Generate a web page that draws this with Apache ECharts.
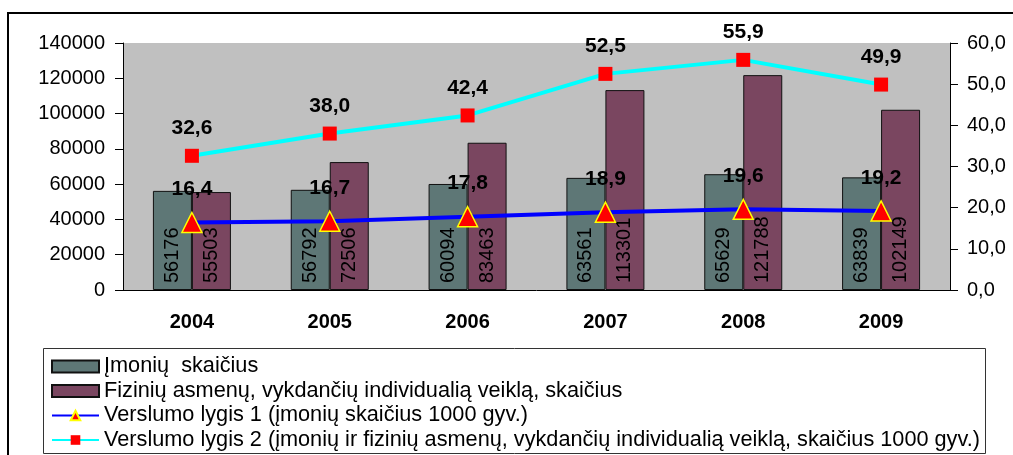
<!DOCTYPE html>
<html>
<head>
    <meta charset="utf-8">
    <title>Verslumo lygis</title>
    <style>
        html, body { margin: 0; padding: 0; background: #fff; }
        #chart { width: 1013px; height: 455px; }
    </style>
</head>
<body>
    <div id="chart"></div>
    <script src="https://cdn.jsdelivr.net/npm/echarts@6/dist/echarts.min.js"></script>
    <script>
        // duomenys
        var years = ['2004', '2005', '2006', '2007', '2008', '2009'];
        var imones = [56176, 56792, 60094, 63561, 65629, 63839];
        var fiziniai = [55503, 72506, 83463, 113301, 121788, 102149];
        var lygis1 = [16.4, 16.7, 17.8, 18.9, 19.6, 19.2];
        var lygis2 = [32.6, 38.0, 42.4, 52.5, 55.9, 49.9];

        var names = [
            'Įmonių  skaičius',
            'Fizinių asmenų, vykdančių individualią veiklą, skaičius',
            'Verslumo lygis 1 (įmonių skaičius 1000 gyv.)',
            'Verslumo lygis 2 (įmonių ir fizinių asmenų, vykdančių individualią veiklą, skaičius 1000 gyv.)'
        ];

        var font = "'Liberation Sans', Arial, sans-serif";
        var comma = function (v) { return v.toFixed(1).replace('.', ','); };

        var chart = echarts.init(document.getElementById('chart'));

        var barLabel = {
            show: true,
            position: 'insideBottom',
            rotate: 90,
            align: 'left',
            verticalAlign: 'middle',
            distance: 7,
            color: '#000',
            fontSize: 20,
            fontFamily: font
        };

        var lineLabel = function (dist) {
            return {
                show: true, position: 'top', distance: dist,
                color: '#000', fontSize: 21, fontWeight: 'bold', fontFamily: font,
                formatter: function (p) { return comma(p.value); }
            };
        };

        // po viena legendos eilute, kad neperskeltu i stulpelius
        var legends = names.map(function (n, i) {
            var item = { name: n };
            if (i < 2) item.icon = 'rect';
            return {
                orient: 'vertical',
                left: 51, top: 355.5 + i * 24.5,
                padding: 0,
                itemWidth: 47,
                itemHeight: 12,
                textStyle: { fontSize: 21.7, lineHeight: 20, fontFamily: font, color: '#000' },
                data: [item]
            };
        });

        var option = {
            backgroundColor: '#fff',
            animation: false,
            graphic: [{
                type: 'rect',
                shape: { x: 8, y: 13, width: 1100, height: 500 },
                style: { fill: 'none', stroke: '#000', lineWidth: 2 },
                silent: true
            }, {
                type: 'rect',
                shape: { x: 43.5, y: 348.5, width: 942, height: 105 },
                style: { fill: 'none', stroke: '#333', lineWidth: 1 },
                silent: true
            }],
            grid: {
                left: 123, right: 63, top: 43, bottom: 165,
                show: true, backgroundColor: '#C0C0C0', borderWidth: 0
            },
            legend: legends,
            xAxis: {
                type: 'category',
                data: years,
                axisLine: { lineStyle: { color: '#000', width: 1 } },
                axisTick: { length: 7, lineStyle: { color: '#000' } },
                axisLabel: { color: '#000', fontSize: 20, fontWeight: 'bold', fontFamily: font, margin: 22 }
            },
            yAxis: [{
                type: 'value',
                min: 0, max: 140000, interval: 20000,
                axisLine: { show: true, lineStyle: { color: '#000' } },
                axisTick: { show: true, length: 8, lineStyle: { color: '#000' } },
                axisLabel: {
                    color: '#000', fontSize: 20, fontFamily: font, margin: 18,
                    formatter: function (v) { return String(v); }
                },
                splitLine: { show: false }
            }, {
                type: 'value',
                min: 0, max: 60, interval: 10,
                axisLine: { show: true, lineStyle: { color: '#000' } },
                axisTick: { show: true, length: 8, lineStyle: { color: '#000' } },
                axisLabel: { color: '#000', fontSize: 20, fontFamily: font, margin: 17, formatter: comma },
                splitLine: { show: false }
            }],
            series: [{
                name: names[0],
                type: 'bar',
                data: imones,
                barWidth: 39,
                barGap: '0%',
                itemStyle: { color: '#5E7776', borderColor: '#111', borderWidth: 1 },
                label: barLabel
            }, {
                name: names[1],
                type: 'bar',
                data: fiziniai,
                barWidth: 39,
                itemStyle: { color: '#7A4660', borderColor: '#111', borderWidth: 1 },
                label: barLabel
            }, {
                name: names[2],
                type: 'line',
                yAxisIndex: 1,
                data: lygis1,
                z: 5,
                symbol: 'triangle',
                symbolSize: 20,
                lineStyle: { color: '#0000FF', width: 4 },
                itemStyle: { color: '#FF0000', borderColor: '#FFFF00', borderWidth: 1.5 },
                label: lineLabel(12)
            }, {
                name: names[3],
                type: 'line',
                yAxisIndex: 1,
                data: lygis2,
                z: 5,
                symbol: 'rect',
                symbolSize: 14,
                lineStyle: { color: '#00FFFF', width: 4 },
                itemStyle: { color: '#FF0000', borderWidth: 0 },
                label: lineLabel(10)
            }]
        };

        chart.setOption(option);
        window.addEventListener('resize', function () { chart.resize(); });
    </script>
</body>
</html>
